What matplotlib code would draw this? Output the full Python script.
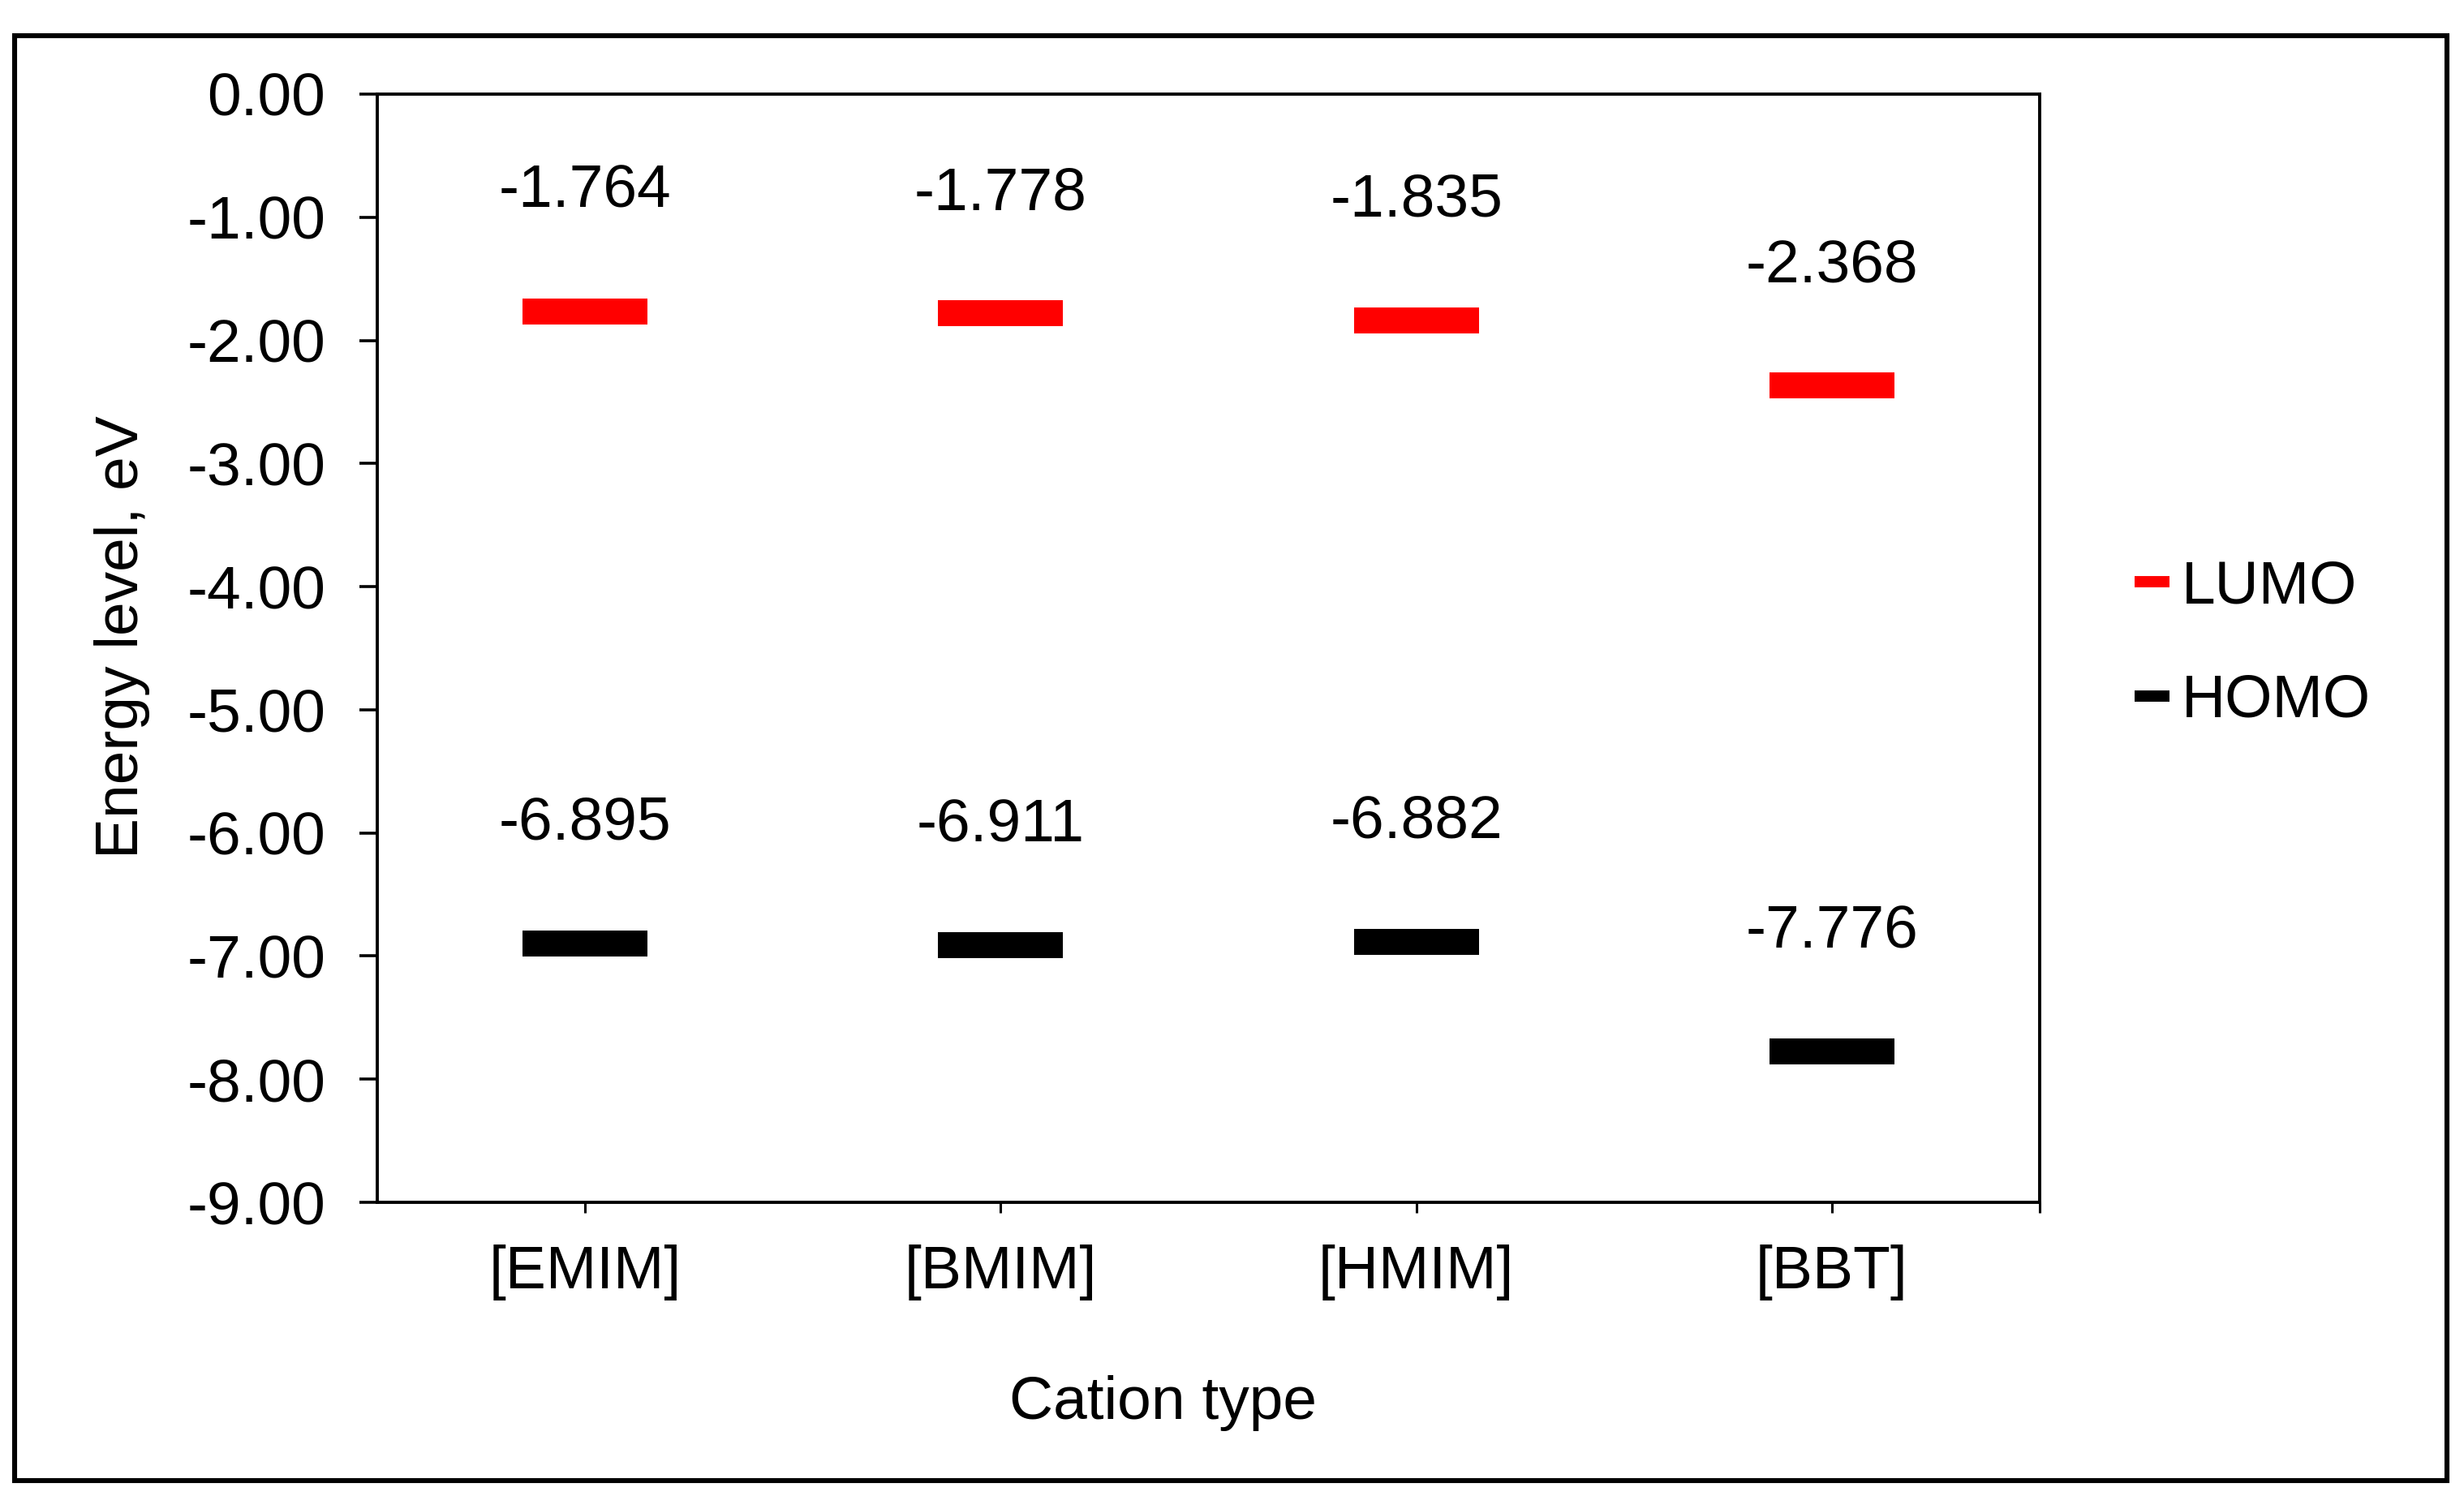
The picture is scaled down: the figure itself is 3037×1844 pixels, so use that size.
import numpy as np
import matplotlib
matplotlib.use("Agg")
import matplotlib.pyplot as plt
from matplotlib.lines import Line2D
from matplotlib.patches import Rectangle

# values from the chart (eV)
cations = ['[EMIM]', '[BMIM]', '[HMIM]', '[BBT]']
lumo = [-1.764, -1.778, -1.835, -2.368]
homo = [-6.895, -6.911, -6.882, -7.776]
lumo_labels = ['-1.764', '-1.778', '-1.835', '-2.368']
homo_labels = ['-6.895', '-6.911', '-6.882', '-7.776']

plt.rcParams['font.family'] = ['Liberation Sans', 'DejaVu Sans']
fs = 27

fig = plt.figure(figsize=(15.185, 9.22), dpi=200)
ax = fig.add_axes([0.1531, 0.1963, 0.8278 - 0.1531, 0.9371 - 0.1963])

# flat rectangular markers (Excel style)
rect = [(-0.5, -0.107), (0.5, -0.107), (0.5, 0.107), (-0.5, 0.107), (-0.5, -0.107)]
x = np.arange(len(cations)) + 0.5
ax.plot(x, lumo, linestyle='none', marker=rect, markersize=55.4,
        color='#ff0000', markeredgewidth=0, zorder=3)
ax.plot(x, homo, linestyle='none', marker=rect, markersize=55.4,
        color='black', markeredgewidth=0, zorder=3)

for xi, v, s in zip(x, lumo, lumo_labels):
    ax.annotate(s, (xi, v), xytext=(0, 46), textcoords='offset points',
                ha='center', va='baseline', fontsize=fs)
for xi, v, s in zip(x, homo, homo_labels):
    ax.annotate(s, (xi, v), xytext=(0, 46), textcoords='offset points',
                ha='center', va='baseline', fontsize=fs)

ax.set_xlim(0, 4)
ax.set_ylim(-9, 0)
ax.set_yticks(np.arange(-9, 1, 1))
ax.set_yticklabels(['%.2f' % t for t in np.arange(-9, 1, 1)])
ax.set_xticks(list(x) + [4])
ax.set_xticklabels(cations + [''])

for sp in ax.spines.values():
    sp.set_linewidth(1.4)
    sp.set_color('black')
ax.tick_params(axis='y', direction='out', length=8, width=1.3, pad=15, labelsize=fs)
ax.tick_params(axis='x', direction='out', length=4.7, width=1.1, pad=14, labelsize=fs)

fig.text(0.0497, 0.574, 'Energy level, eV', rotation=90, ha='center', va='center', fontsize=fs)
fig.text(0.472, 0.0619, 'Cation type', ha='center', va='center', fontsize=fs)

handles = [Line2D([0], [0], color='#ff0000', lw=5, solid_capstyle='butt'),
           Line2D([0], [0], color='black', lw=5, solid_capstyle='butt')]
fig.legend(handles, ['LUMO', 'HOMO'], loc='center left',
           bbox_to_anchor=(0.8663, 0.5693), frameon=False, fontsize=fs,
           handlelength=0.57, handletextpad=0.2, labelspacing=0.95,
           borderpad=0, borderaxespad=0)

# outer frame around the whole chart
fig.patches.append(Rectangle((0.0059, 0.0103), 0.9931 - 0.0059, 0.9761 - 0.0103,
                             transform=fig.transFigure, fill=False,
                             edgecolor='black', linewidth=2.2))

fig.savefig('out.png', dpi=200)
